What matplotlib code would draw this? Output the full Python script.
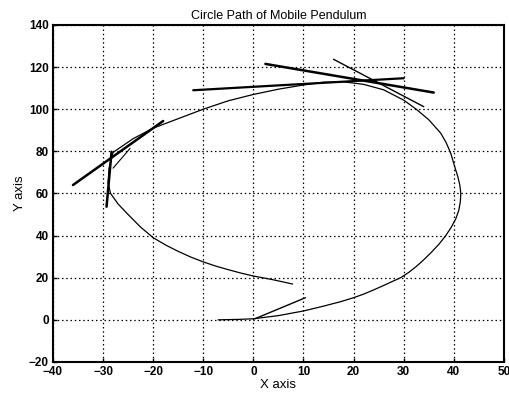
import matplotlib
matplotlib.use("Agg")
import matplotlib.pyplot as plt

# Main pendulum path
path_x = [-7, -3, 0, 5, 10, 14, 17.4, 20, 22, 24, 26, 28, 29.4, 31, 32.5, 34, 35.5, 37, 38.4,
          39.5, 40.4, 41, 41.3, 41.4, 41.2, 40.8, 40.4, 39.9, 39.4, 38.5, 37.4, 35, 32.5, 30,
          26, 22, 18, 14, 10, 5, 0, -5, -10, -15, -20, -24, -28,
          -28.8, -29, -28.5, -27, -25, -22.5, -20, -17.5, -15, -12.5, -10, -7.5, -5, -2.5, 0, 4, 7.8]
path_y = [0, 0.2, 0.5, 2, 4.2, 6.5, 8.6, 10.5, 12.2, 14.2, 16.3, 18.5, 20, 22.5, 25.3, 28.5, 32, 35.8, 40,
          44, 48, 52, 56, 60, 64, 68, 71, 75, 79, 84, 88.6, 95, 100, 104.3,
          109.2, 111.8, 113, 112.8, 111.5, 109.5, 107, 104, 100, 95.5, 91, 86, 79.5,
          72, 65, 60, 55, 50, 44, 39, 35.5, 32.5, 29.8, 27.5, 25.5, 23.8, 22.2, 20.8, 19, 17]

# Straight strokes (start/end points)
seg_x0 = [0.3, -36, -29.3, -28, -12, 2.4, 16]
seg_y0 = [0.5, 64, 53.7, 72, 109, 121.5, 123.7]
seg_x1 = [10.4, -18, -28.3, -24.6, 30, 36, 34]
seg_y1 = [10.5, 94.4, 79.8, 81.4, 114.7, 107.9, 101.2]
seg_w = [1.0, 1.8, 1.8, 0.8, 1.6, 1.8, 1.0]

title = "Circle Path of Mobile Pendulum"
xlabel = "X axis"
ylabel = "Y axis"
xticks = list(range(-40, 51, 10))
yticks = list(range(-20, 141, 20))

plt.rcParams['font.family'] = ['Liberation Sans', 'DejaVu Sans']
fig = plt.figure(figsize=(5.09, 3.96), dpi=100)
ax = fig.add_axes([0.104, 0.086, 0.886, 0.851])

ax.plot(path_x, path_y, color='black', lw=0.9)
for x0, y0, x1, y1, w in zip(seg_x0, seg_y0, seg_x1, seg_y1, seg_w):
    ax.plot([x0, x1], [y0, y1], color='black', lw=w, solid_capstyle='round')

ax.set_xlim(-40, 50)
ax.set_ylim(-20, 140)
ax.set_xticks(xticks)
ax.set_yticks(yticks)
ax.grid(True, color='black', linestyle=(0, (1.2, 2.2)), lw=0.9)
ax.tick_params(direction='in', length=3, labelsize=8.5, width=1, pad=3)
for lab in ax.get_xticklabels() + ax.get_yticklabels():
    lab.set_fontweight('bold')
for s in ax.spines.values():
    s.set_linewidth(1.5)

ax.set_title(title, fontsize=9, pad=4)
ax.set_xlabel(xlabel, fontsize=9.5, labelpad=1)
ax.set_ylabel(ylabel, fontsize=9.5, labelpad=2)

fig.savefig("out.png", dpi=100)
